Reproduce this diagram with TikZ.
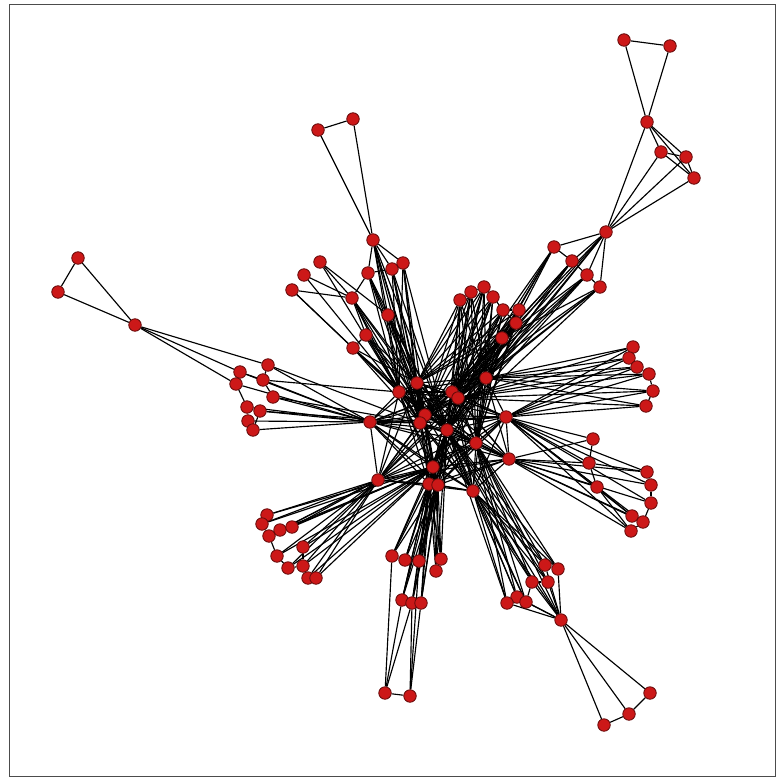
\documentclass[tikz,border=0pt]{standalone}
\usetikzlibrary{backgrounds}

\definecolor{vtxred}{RGB}{204,24,24}
\definecolor{vtxrim}{RGB}{100,10,10}

\begin{document}
\begin{tikzpicture}[x=1pt, y=-1pt,
    vtx/.style={circle, fill=vtxred, draw=vtxrim, line width=0.8pt, inner sep=0pt, minimum size=12.5pt},
    edge/.style={line width=1.15pt, black}]
    \useasboundingbox (0,0) rectangle (783,781);
    \draw[black!70, line width=1pt] (9,5) rectangle (775,776);

    % core
    \foreach \n/\x/\y in {c1/399/392, c2/417/383, c3/486/378, c4/452/392, c5/458/398,
        c6/370/422, c7/425/415, c8/420/423, c9/447/430, c10/506/417, c11/476/443,
        c12/509/459, c13/433/467, c14/378/480, c15/429/484, c16/438/485, c17/473/491}
        \node[vtx] (\n) at (\x,\y) {};

    % upper centre
    \foreach \n/\x/\y in {n1/460/300, n2/471/292, n3/484/287, n4/493/297,
        n5/503/310, n6/519/310, n7/516/323, n8/502/338}
        \node[vtx] (\n) at (\x,\y) {};

    % top right
    \foreach \n/\x/\y in {t1/624/40, t2/670/46, t3/647/122, t4/661/152, t5/686/157,
        t6/694/178, t7/606/232, t8/554/247, t9/572/261, t10/587/275, t11/600/287}
        \node[vtx] (\n) at (\x,\y) {};

    % upper left
    \foreach \n/\x/\y in {u1/318/130, u2/353/119, a1/373/240, a2/320/262, a3/304/275,
        a4/292/290, a5/352/298, a6/368/273, a7/392/269, a8/403/263, a9/388/315,
        a10/366/335, a11/353/348}
        \node[vtx] (\n) at (\x,\y) {};

    % far left and left
    \foreach \n/\x/\y in {l1/78/258, l2/58/292, l3/135/325,
        w1/240/372, w2/268/365, w3/236/384, w4/263/380, w5/273/397,
        w6/247/407, w7/260/411, w8/248/421, w9/253/430}
        \node[vtx] (\n) at (\x,\y) {};

    % lower left
    \foreach \n/\x/\y in {s1/267/515, s2/262/524, s3/269/536, s4/280/530, s5/292/527,
        s6/303/547, s7/277/556, s8/288/568, s9/303/566, s10/308/578, s11/316/578}
        \node[vtx] (\n) at (\x,\y) {};

    % bottom
    \foreach \n/\x/\y in {b1/392/556, b2/405/560, b3/419/561, b4/441/559, b5/436/571,
        b6/402/600, b7/412/603, b8/421/603, b9/385/693, b10/410/696}
        \node[vtx] (\n) at (\x,\y) {};

    % bottom right
    \foreach \n/\x/\y in {r1/545/565, r2/558/569, r3/532/582, r4/548/582, r5/517/597,
        r6/507/603, r7/526/602, r8/561/620, r9/650/693, r10/629/714, r11/604/725}
        \node[vtx] (\n) at (\x,\y) {};

    % right
    \foreach \n/\x/\y in {e1/633/347, e2/629/358, e3/637/367, e4/649/374, e5/653/391,
        e6/646/406, f1/593/439, f2/589/463, f3/597/487, f4/647/472, f5/651/485,
        f6/651/503, f7/632/516, f8/643/522, f9/631/531}
        \node[vtx] (\n) at (\x,\y) {};

    \begin{pgfonlayer}{background}
        % dense core
        \foreach \i in {1,...,16}{
            \pgfmathtruncatemacro\k{\i+1}
            \foreach \j in {\k,...,17}
                \draw[edge] (c\i) -- (c\j);
        }

        % fans into the core
        \foreach \a in {n1,n2,n3,n4,n5,n6,n7,n8}
            \foreach \b in {c2,c3,c4,c5,c7,c9,c11}
                \draw[edge] (\a) -- (\b);
        \foreach \a in {t7,t8,t9,t10,t11}
            \foreach \b in {c3,c4,c5,c9}
                \draw[edge] (\a) -- (\b);
        \foreach \a in {a1,a5,a6,a7,a8,a9,a10,a11}
            \foreach \b in {c1,c2,c7,c8,c9}
                \draw[edge] (\a) -- (\b);
        \foreach \a in {w1,w2,w3,w4,w5,w6,w7,w8,w9}
            \draw[edge] (\a) -- (c6);
        \foreach \a in {s1,s2,s3,s4,s5,s6,s7,s8,s9,s10,s11}
            \foreach \b in {c14,c13}
                \draw[edge] (\a) -- (\b);
        \foreach \a in {b1,b2,b3,b4,b5,b6,b7,b8}
            \foreach \b in {c13,c15,c16,c9}
                \draw[edge] (\a) -- (\b);
        \foreach \a in {r1,r2,r3,r4,r5,r6,r7,r8}
            \foreach \b in {c11,c17,c9}
                \draw[edge] (\a) -- (\b);
        \foreach \a in {e1,e2,e3,e4,e5,e6}
            \foreach \b in {c5,c10,c3}
                \draw[edge] (\a) -- (\b);
        \foreach \a in {f1,f2,f3,f4,f5,f6,f7,f8,f9}
            \foreach \b in {c12,c10}
                \draw[edge] (\a) -- (\b);

        % links inside the groups
        \foreach \a/\b in {n1/n2, n2/n3, n3/n4, n4/n5, n5/n6, n6/n7, n7/n8, n5/n7,
            t1/t2, t1/t3, t2/t3, t3/t4, t3/t5, t3/t6, t4/t5, t5/t6, t4/t6,
            t3/t7, t4/t7, t5/t7, t6/t7, t7/t8, t7/t9, t7/t10, t7/t11,
            t8/t9, t9/t10, t10/t11, t8/n8, t9/n8, t10/n8, t11/n8,
            u1/u2, u1/a1, u2/a1, a1/a6, a1/a7, a1/a8, a1/a9, a6/a7, a7/a8,
            a2/a5, a3/a5, a4/a5, a4/a11, a2/a9, a5/a10, a10/a11, a6/a5,
            a2/c1, a3/c1, a4/c1,
            l1/l2, l1/l3, l2/l3, l3/w1, l3/w2, l3/w3,
            w1/w3, w1/w4, w2/w4, w4/w5, w3/w6, w6/w7, w6/w8, w8/w9, w7/w9,
            w2/c8, w5/c8, w4/c1, w7/c8,
            s1/s2, s2/s3, s3/s4, s4/s5, s3/s7, s7/s8, s8/s9, s9/s10, s10/s11, s6/s9,
            b1/b2, b2/b3, b4/b5, b6/b7, b7/b8, b9/b10,
            b9/b6, b9/b7, b9/b1, b10/b7, b10/b8, b10/b3,
            r8/r1, r8/r2, r8/r3, r8/r4, r8/r5, r8/r6, r8/r7,
            r8/r9, r8/r10, r8/r11, r9/r10, r10/r11, r1/r2, r3/r4, r5/r6, r6/r7, r3/r7,
            e1/e2, e2/e3, e3/e4, e4/e5, e5/e6,
            f1/f2, f2/f3, f3/f7, f3/f9, f4/f5, f5/f6, f6/f8, f7/f8, f8/f9, f2/f4}
            \draw[edge] (\a) -- (\b);
    \end{pgfonlayer}
\end{tikzpicture}
\end{document}
